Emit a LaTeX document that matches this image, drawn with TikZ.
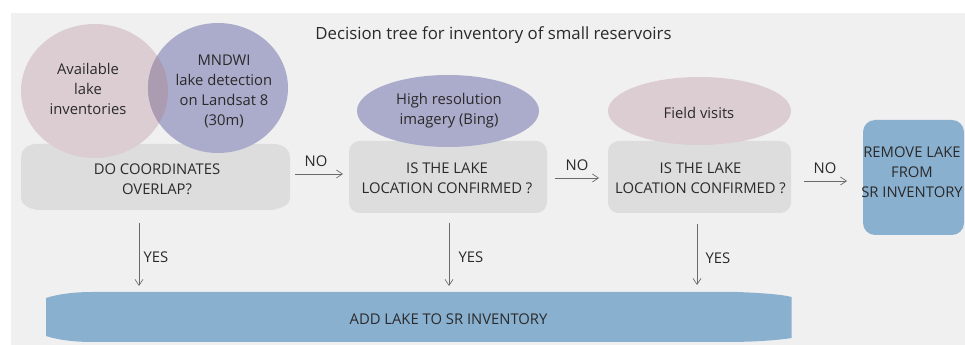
\documentclass[tikz,border=0pt]{standalone}
\usepackage{fontspec}
\setmainfont{Open Sans}
\usetikzlibrary{arrows.meta}
\definecolor{bgc}{HTML}{F0F0F0}
\definecolor{pinkc}{HTML}{DCCDD3}
\definecolor{bluec}{HTML}{ABABCB}
\definecolor{overc}{HTML}{AC9CB2}
\definecolor{grayc}{HTML}{DEDDDE}
\definecolor{skyc}{HTML}{8AB0D0}
\definecolor{inkc}{HTML}{2A2A2A}
\definecolor{arrc}{HTML}{6A6A6A}
\tikzset{
  x=0.75pt,y=-0.75pt,
  txt/.style={text=inkc,font=\fontsize{11.1}{15}\selectfont,align=center,inner sep=0pt},
  titletxt/.style={txt,font=\fontsize{12.6}{15}\selectfont},
  lbl/.style={txt},
  arr/.style={draw=arrc,line width=0.6pt,-{Straight Barb[length=4.5pt,width=6pt,line width=0.5pt]}},
  grayblock/.style={fill=grayc,draw=none,rounded corners=8pt},
  skyblock/.style={fill=skyc,draw=none},
  pinkshape/.style={fill=pinkc,draw=none},
  blueshape/.style={fill=bluec,draw=none},
}
\begin{document}
\begin{tikzpicture}
\useasboundingbox (0,0) rectangle (965,345);
\fill[white] (0,0) rectangle (965,345);
\fill[bgc] (11,13) rectangle (965,345);
% gray boxes
\fill[grayc] (21,157) .. controls (21,150) and (27,145) .. (35,144) -- (275,144) .. controls (284,145) and (290,150) .. (290,157) -- (290,198) .. controls (290,204) and (284,208) .. (272,210) -- (37,210) .. controls (27,208) and (21,204) .. (21,198) -- cycle;
\fill[grayblock] (349,141) rectangle (547,213);
\fill[grayblock] (608,141) rectangle (791,213);
% shapes
\fill[pinkshape] (94.5,91) ellipse [x radius=73.5, y radius=67];
\fill[blueshape] (218,88) ellipse [x radius=70, y radius=65];
\begin{scope}
  \clip (94.5,91) ellipse [x radius=73.5, y radius=67];
  \fill[overc] (218,88) ellipse [x radius=70, y radius=65];
\end{scope}
\fill[blueshape] (448,111) ellipse [x radius=91, y radius=36];
\fill[pinkshape] (699.5,111) ellipse [x radius=91.5, y radius=34];
% blue blocks
\fill[skyblock,rounded corners=9pt] (863,120) rectangle (964,235);
\fill[skyblock] (46,298) .. controls (58,294) and (75,292) .. (92,292) -- (737,292) .. controls (765,293) and (785,295) .. (791.5,297) -- (791.5,338) .. controls (780,340) and (755,342) .. (727,342) -- (92,342) .. controls (75,342) and (58,340) .. (46,336) -- cycle;
% nodes
\node[titletxt] (title) at (493.5,35) {Decision tree for inventory of small reservoirs};
\node[txt] (inv) at (88,89) {Available\\lake\\inventories};
\node[txt] (mndwi) at (224,91) {MNDWI\\lake detection\\on Landsat 8\\(30m)};
\node[txt] (q1) at (157,179) {DO COORDINATES\\OVERLAP?};
\node[txt] (bing) at (449,111) {High resolution\\imagery (Bing)};
\node[txt] (field) at (699,113) {Field visits};
\node[txt] (q2) at (447,178) {IS THE LAKE\\LOCATION CONFIRMED ?};
\node[txt] (q3) at (700.5,178) {IS THE LAKE\\LOCATION CONFIRMED ?};
\node[txt] (rem) at (912,172) {REMOVE LAKE\\FROM\\SR INVENTORY};
\node[txt] (add) at (448.5,319) {ADD LAKE TO SR INVENTORY};
% connector anchors
\coordinate (a1s) at (295,174); \coordinate (a1e) at (343,174);
\coordinate (a2s) at (555,178); \coordinate (a2e) at (599,178);
\coordinate (a3s) at (804,181); \coordinate (a3e) at (847,181);
\coordinate (y1s) at (139,223); \coordinate (y1e) at (139,286);
\coordinate (y2s) at (449,223); \coordinate (y2e) at (449,286);
\coordinate (y3s) at (697,224); \coordinate (y3e) at (697,285);
\draw[arr] (a1s) -- (a1e);
\draw[arr] (a2s) -- (a2e);
\draw[arr] (a3s) -- (a3e);
\draw[arr] (y1s) -- (y1e);
\draw[arr] (y2s) -- (y2e);
\draw[arr] (y3s) -- (y3e);
\node[lbl] (n1) at (316,161) {NO};
\node[lbl] (n2) at (577,165) {NO};
\node[lbl] (n3) at (825,168) {NO};
\node[lbl] (y1) at (156,257) {YES};
\node[lbl] (y2) at (471,257) {YES};
\node[lbl] (y3) at (718,258) {YES};
\end{tikzpicture}
\end{document}
